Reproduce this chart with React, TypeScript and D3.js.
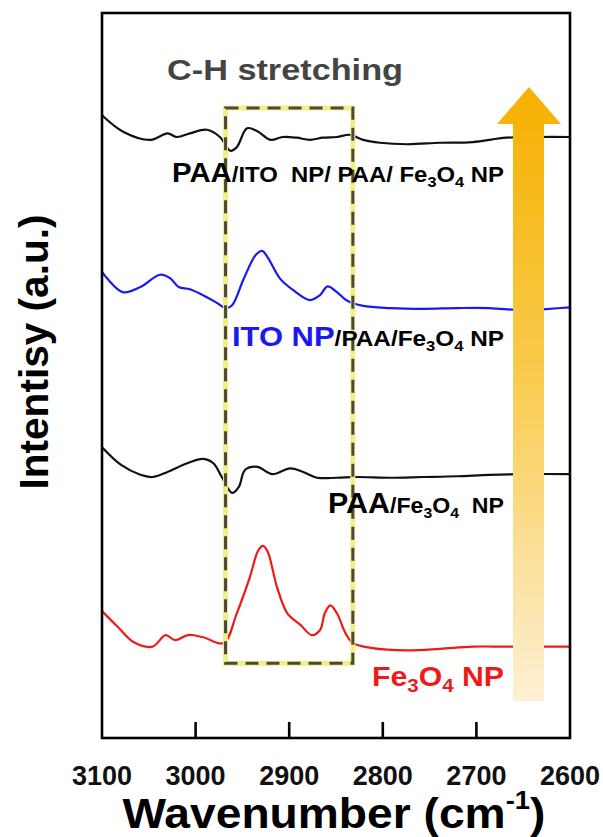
import React from "react";
import * as d3 from "d3";

// Wavenumber (cm-1) of each sampled point, per spectrum
const wnTop = [3100, 3077, 3048, 3030, 3020, 3006, 2988, 2974, 2963, 2956, 2945, 2934, 2920, 2907, 2892, 2878, 2864, 2849, 2835, 2821, 2803, 2774, 2739, 2704, 2668, 2633, 2600];
const intTop = [85.9, 83.6, 82.5, 83.4, 82.9, 83.4, 83.9, 82.9, 81.0, 81.5, 84.1, 83.7, 82.5, 82.9, 82.8, 82.5, 82.8, 82.9, 83.2, 82.5, 82.1, 81.9, 82.1, 82.2, 82.8, 82.9, 82.9];

const wnBlue = [3100, 3078, 3059, 3038, 3027, 3018, 3006, 2988, 2977, 2968, 2961, 2949, 2936, 2929, 2923, 2910, 2896, 2878, 2867, 2859, 2849, 2838, 2821, 2792, 2757, 2721, 2686, 2651, 2622, 2600];
const intBlue = [64.3, 61.5, 62.2, 63.9, 63.4, 62.2, 61.9, 60.8, 60.0, 59.3, 59.7, 63.2, 66.6, 67.2, 66.3, 63.4, 61.8, 60.4, 61.1, 62.3, 61.5, 60.3, 59.6, 59.3, 59.2, 59.3, 59.3, 59.0, 59.2, 59.4];

const wnMid = [3100, 3080, 3059, 3046, 3030, 3009, 2992, 2981, 2972, 2961, 2954, 2947, 2934, 2918, 2899, 2885, 2870, 2849, 2828, 2792, 2757, 2721, 2686, 2651, 2600];
const intMid = [40.1, 37.7, 36.3, 36.0, 36.7, 37.9, 38.5, 37.9, 36.0, 33.8, 34.6, 37.0, 37.4, 36.4, 37.2, 36.7, 35.9, 35.9, 36.0, 35.9, 36.0, 36.1, 36.3, 36.4, 36.4];

const wnRed = [3100, 3083, 3066, 3046, 3032, 3022, 3008, 2992, 2970, 2956, 2942, 2933, 2928, 2923, 2913, 2902, 2888, 2876, 2867, 2862, 2856, 2849, 2840, 2832, 2811, 2774, 2739, 2704, 2668, 2600];
const intRed = [17.5, 15.3, 13.2, 12.6, 14.2, 13.5, 14.2, 13.9, 13.1, 17.2, 22.2, 25.9, 26.5, 25.7, 20.8, 17.2, 15.6, 14.2, 14.9, 17.2, 18.3, 17.2, 14.5, 13.1, 12.4, 12.1, 12.3, 12.6, 12.6, 12.6];

const xTicks = [3100, 3000, 2900, 2800, 2700, 2600];
const xDomain = [3100, 2600];
const yDomain = [0, 100];

// C-H stretching window highlighted by the dashed box
const boxWn = [2968, 2832];
const boxInt = [10.3, 86.9];

const W = 603;
const H = 837;
const plot = { left: 102, right: 570, top: 13, bottom: 738 };

const FONT = "'Liberation Sans', Arial, Helvetica, sans-serif";

export default function App() {
  const x = d3.scaleLinear().domain(xDomain).range([plot.left, plot.right]);
  const y = d3.scaleLinear().domain(yDomain).range([plot.bottom, plot.top]);

  const line = d3
    .line<[number, number]>()
    .x((d) => x(d[0]))
    .y((d) => y(d[1]))
    .curve(d3.curveCatmullRom.alpha(0.5));

  const series = [
    { wn: wnTop, v: intTop, color: "#111111" },
    { wn: wnBlue, v: intBlue, color: "#1a1af0" },
    { wn: wnMid, v: intMid, color: "#111111" },
    { wn: wnRed, v: intRed, color: "#ee1a1a" },
  ];

  const bx0 = x(boxWn[0]);
  const bx1 = x(boxWn[1]);
  const by0 = y(boxInt[1]);
  const by1 = y(boxInt[0]);

  // upward arrow geometry
  const ax0 = 513;
  const ax1 = 544;
  const hx0 = 497;
  const hx1 = 561;
  const tipY = 87;
  const headY = 124;
  const tailY = 701;
  const tipX = (hx0 + hx1) / 2;
  const arrowPath = `M${ax0},${tailY} L${ax0},${headY} L${hx0},${headY} L${tipX},${tipY} L${hx1},${headY} L${ax1},${headY} L${ax1},${tailY} Z`;

  const labelX = 504;
  const small = 22;
  const sub = 15;

  return (
    <svg
      width={W}
      height={H}
      viewBox={`0 0 ${W} ${H}`}
      style={{ position: "absolute", left: 0, top: 0, background: "#fff" }}
      fontFamily={FONT}
      fontWeight="bold"
    >
      <defs>
        <linearGradient id="arrowGrad" x1="0" y1="0" x2="0" y2="1">
          <stop offset="0%" stopColor="#f6b000" />
          <stop offset="45%" stopColor="#f9ca4a" />
          <stop offset="100%" stopColor="#fdf0d4" />
        </linearGradient>
      </defs>
      <rect width={W} height={H} fill="#fff" />

      {/* spectra */}
      {series.map((s, i) => (
        <path
          key={i}
          d={line(s.wn.map((w, j) => [w, s.v[j]] as [number, number])) || ""}
          fill="none"
          stroke={s.color}
          strokeWidth={2.2}
          strokeLinejoin="round"
        />
      ))}

      {/* dashed highlight box */}
      <rect x={bx0} y={by0} width={bx1 - bx0} height={by1 - by0} fill="none" stroke="#f1ef86" strokeWidth={5} />
      <rect
        x={bx0}
        y={by0}
        width={bx1 - bx0}
        height={by1 - by0}
        fill="none"
        stroke="#48483f"
        strokeWidth={3}
        strokeDasharray="13 8"
      />

      {/* arrow */}
      <path d={arrowPath} fill="url(#arrowGrad)" />

      {/* frame */}
      <rect
        x={plot.left}
        y={plot.top}
        width={plot.right - plot.left}
        height={plot.bottom - plot.top}
        fill="none"
        stroke="#000"
        strokeWidth={2.6}
      />

      {/* x ticks */}
      {xTicks.map((t) => (
        <g key={t}>
          {t !== xDomain[0] && t !== xDomain[1] && (
            <line x1={x(t)} x2={x(t)} y1={plot.bottom} y2={plot.bottom - 16} stroke="#000" strokeWidth={2.6} />
          )}
          <text x={x(t)} y={785} textAnchor="middle" fontSize={27} fill="#111">
            {t}
          </text>
        </g>
      ))}

      {/* axis titles */}
      <text x={334} y={828} textAnchor="middle" fontSize={42} fill="#000" textLength={423} lengthAdjust="spacingAndGlyphs">
        Wavenumber (cm
        <tspan fontSize={25} dy={-19}>-1</tspan>
        <tspan dy={19}>)</tspan>
      </text>
      <text transform={`translate(48,352) rotate(-90)`} textAnchor="middle" fontSize={41} fill="#000" textLength={275} lengthAdjust="spacingAndGlyphs">
        Intentisy (a.u.)
      </text>

      <text x={167} y={80} fontSize={29} fill="#444" textLength={236} lengthAdjust="spacingAndGlyphs">
        C-H stretching
      </text>

      {/* series labels */}
      <text x={labelX} y={182} textAnchor="end" fill="#000" style={{ whiteSpace: "pre" }} textLength={332} lengthAdjust="spacingAndGlyphs">
        <tspan fontSize={27}>PAA</tspan>
        <tspan fontSize={small}>{"/ITO  NP/ PAA/ Fe"}</tspan>
        <tspan fontSize={sub} dy={5}>3</tspan>
        <tspan fontSize={small} dy={-5}>O</tspan>
        <tspan fontSize={sub} dy={5}>4</tspan>
        <tspan fontSize={small} dy={-5}>{" NP"}</tspan>
      </text>

      <text x={labelX} y={346} textAnchor="end" fill="#000" style={{ whiteSpace: "pre" }} textLength={272} lengthAdjust="spacingAndGlyphs">
        <tspan fontSize={28} fill="#1a1af0">ITO NP</tspan>
        <tspan fontSize={small}>{"/PAA/Fe"}</tspan>
        <tspan fontSize={sub} dy={5}>3</tspan>
        <tspan fontSize={small} dy={-5}>O</tspan>
        <tspan fontSize={sub} dy={5}>4</tspan>
        <tspan fontSize={small} dy={-5}>{" NP"}</tspan>
      </text>

      <text x={labelX} y={513} textAnchor="end" fill="#000" style={{ whiteSpace: "pre" }} textLength={176} lengthAdjust="spacingAndGlyphs">
        <tspan fontSize={29}>PAA</tspan>
        <tspan fontSize={small}>{"/Fe"}</tspan>
        <tspan fontSize={sub} dy={5}>3</tspan>
        <tspan fontSize={small} dy={-5}>O</tspan>
        <tspan fontSize={sub} dy={5}>4</tspan>
        <tspan fontSize={small} dy={-5}>{"  NP"}</tspan>
      </text>

      <text x={labelX} y={686} textAnchor="end" fill="#ee1a1a" style={{ whiteSpace: "pre" }} textLength={132} lengthAdjust="spacingAndGlyphs">
        <tspan fontSize={28}>Fe</tspan>
        <tspan fontSize={19} dy={6}>3</tspan>
        <tspan fontSize={28} dy={-6}>O</tspan>
        <tspan fontSize={19} dy={6}>4</tspan>
        <tspan fontSize={28} dy={-6}>{" NP"}</tspan>
      </text>
    </svg>
  );
}
